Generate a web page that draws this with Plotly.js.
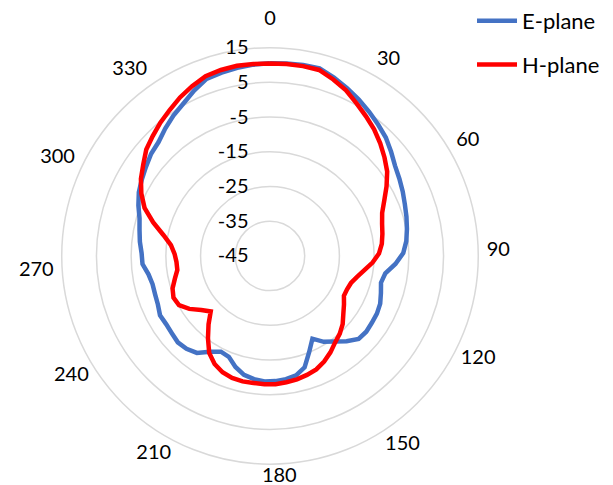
<!DOCTYPE html>
<html>
<head>
<meta charset="utf-8">
<script src="https://cdn.plot.ly/plotly-3.0.1.min.js"></script>
<style>
  html, body { margin: 0; padding: 0; background: #ffffff; }
  #chart { width: 613px; height: 485px; }
</style>
</head>
<body>
<div id="chart"></div>
<script>
// Measurement angles (degrees), one category each, 0 through 360
const angles = ['0', '5', '10', '15', '20', '25', '30', '35', '40', '45', '50', '55', '60', '65', '70', '75', '80', '85',
  '90', '95', '100', '105', '110', '115', '120', '125', '130', '135', '140', '145', '150', '155', '160', '165', '170', '175',
  '180', '185', '190', '195', '200', '205', '210', '215', '220', '225', '230', '235', '240', '245', '250', '255', '260', '265',
  '270', '275', '280', '285', '290', '295', '300', '305', '310', '315', '320', '325', '330', '335', '340', '345', '350', '355', '360'];

// Gain (dB), E-plane cut
const ePlane = [10.5, 10.6, 10.8, 10.9, 9.6, 8.2, 6.8, 5.4, 4.0, 2.7, 1.0, -0.6, -1.6, -2.5, -3.4, -4.1, -4.8, -5.5,
  -6.6, -8.8, -11.4, -12.1, -11.3, -10.4, -10.0, -9.9, -9.7, -10.0, -12.0, -14.1, -15.8, -18.2, -15.1, -11.4, -9.8, -9.2,
  -8.9, -8.8, -9.2, -9.9, -11.5, -13.6, -14.0, -12.4, -10.0, -9.0, -8.6, -9.0, -9.2, -9.0, -9.8, -10.1, -10.2, -9.6,
  -8.2, -8.0, -7.3, -6.7, -5.9, -4.4, -3.0, -2.0, -1.0, 0.15, 0.9, 2.5, 4.1, 5.5, 7.4, 9.2, 9.6, 10.0, 10.3];

// Gain (dB), H-plane cut
const hPlane = [10.4, 10.5, 10.5, 10.4, 9.0, 7.5, 5.5, 3.8, 2.2, 0.4, -1.5, -3.4, -5.9, -8.4, -10.4, -11.4, -12.0, -12.6,
  -13.6, -15.4, -17.5, -19.2, -20.4, -20.8, -20.8, -19.5, -18.1, -16.3, -14.9, -13.8, -12.2, -10.8, -9.7, -9.1, -8.6, -8.3,
  -8.0, -8.0, -8.1, -8.0, -8.2, -8.8, -10.0, -12.0, -15.3, -18.5, -21.6, -19.8, -17.2, -15.2, -14.7, -15.4, -16.8, -18.0,
  -18.0, -17.5, -16.3, -13.7, -10.0, -6.3, -3.8, -1.7, 0.0, 2.0, 3.3, 4.7, 6.0, 7.5, 8.8, 10.0, 10.4, 10.6, 10.5];

// angle labels, split into two layers that sit at slightly different heights
const upperTicks = ['30', '60', '90', '270', '300', '330'];
const lowerTicks = ['0', '120', '150', '180', '210', '240'];
const radialTicks = [-45, -35, -25, -15, -5, 5, 15];
const radialLabels = ['-45', '-35', '-25', '-15', '-5', '5', '15'];
const radialRange = [-45, 15];

const FONT = 'Lato, "Open Sans", "DejaVu Sans", sans-serif';
const GRID = '#d9d9d9';
const TEXT = '#000000';
const DOMAIN_X = [0.0979, 0.7830];

// the polygon closes back onto the first angle
const closed = (arr) => arr.concat([arr[0]]);

// transparent copy that gives a label layer its categories
const labelCarrier = (subplot) => ({
  type: 'scatterpolar', mode: 'lines', subplot: subplot, showlegend: false,
  theta: angles, r: ePlane, opacity: 0, hoverinfo: 'skip',
  line: { color: 'rgba(0,0,0,0)', width: 0 }
});

const traces = [
  {
    type: 'scatterpolar', mode: 'lines', name: 'E-plane', legendgroup: 'e',
    theta: closed(angles), r: closed(ePlane),
    line: { color: '#4472c4', width: 4.5 }
  },
  {
    type: 'scatterpolar', mode: 'lines', name: 'H-plane', legendgroup: 'h',
    theta: closed(angles), r: closed(hPlane),
    line: { color: '#ff0000', width: 4.5 }
  },
  labelCarrier('polar2'),
  labelCarrier('polar3')
];

const angular = {
  type: 'category', categoryorder: 'array', categoryarray: angles,
  rotation: 90, direction: 'clockwise',
  showgrid: false
};

const labelLayer = (domainY, ticks) => ({
  domain: { x: DOMAIN_X, y: domainY },
  bgcolor: 'rgba(0,0,0,0)',
  angularaxis: Object.assign({}, angular, {
    tickmode: 'array', tickvals: ticks, ticktext: ticks,
    showline: false,
    ticks: 'outside', ticklen: 4, tickcolor: 'rgba(0,0,0,0)',
    tickfont: { family: FONT, size: 20, color: TEXT }
  }),
  radialaxis: { range: radialRange, visible: false, showgrid: false }
});

const layout = {
  width: 613, height: 485,
  margin: { l: 0, r: 0, t: 0, b: 0 },
  paper_bgcolor: '#ffffff',
  font: { family: FONT, size: 20, color: TEXT },
  showlegend: true,
  legend: {
    x: 0.77, y: 1.009, xanchor: 'left', yanchor: 'top',
    font: { family: FONT, size: 22, color: TEXT },
    itemwidth: 40,
    tracegroupgap: 12, bgcolor: 'rgba(0,0,0,0)'
  },
  polar: {
    domain: { x: DOMAIN_X, y: [0.0433, 0.9093] },
    bgcolor: '#ffffff',
    angularaxis: Object.assign({}, angular, {
      showticklabels: false, ticks: '',
      showline: true, linecolor: GRID, linewidth: 1.5
    }),
    radialaxis: {
      range: radialRange, angle: 90, side: 'counterclockwise',
      tickmode: 'array', tickvals: radialTicks, ticktext: radialLabels,
      showline: false, showgrid: true, gridcolor: GRID, gridwidth: 1.5,
      ticks: 'outside', ticklen: 14, tickcolor: 'rgba(0,0,0,0)', tickangle: 90,
      tickfont: { family: FONT, size: 20, color: TEXT }
    }
  },
  polar2: labelLayer([0.0485, 0.9145], upperTicks),
  polar3: labelLayer([0.0650, 0.9310], lowerTicks)
};

Plotly.newPlot('chart', traces, layout, { displayModeBar: false, staticPlot: true });
</script>
</body>
</html>
